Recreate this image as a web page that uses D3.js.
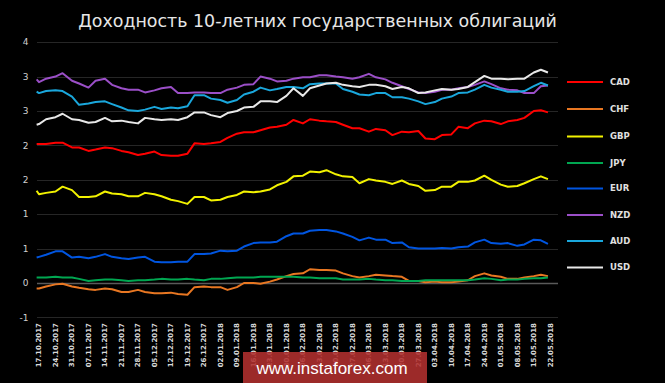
<!DOCTYPE html>
<html><head><meta charset="utf-8">
<script src="https://cdn.jsdelivr.net/npm/d3@7"></script>
<style>html,body{margin:0;padding:0;background:#000;}svg{display:block;}</style>
</head><body>
<script>
const title = "Доходность 10-летних государственных облигаций";
const dates = ["2017-10-16","2017-10-17","2017-10-20","2017-10-24","2017-10-27","2017-10-31","2017-11-03","2017-11-07","2017-11-10","2017-11-14","2017-11-17","2017-11-21","2017-11-24","2017-11-28","2017-12-01","2017-12-05","2017-12-08","2017-12-12","2017-12-15","2017-12-19","2017-12-22","2017-12-26","2017-12-29","2018-01-02","2018-01-05","2018-01-09","2018-01-12","2018-01-16","2018-01-19","2018-01-23","2018-01-26","2018-01-30",
"2018-02-02","2018-02-06","2018-02-09","2018-02-13","2018-02-16","2018-02-20","2018-02-23","2018-02-27","2018-03-02","2018-03-06","2018-03-09","2018-03-13","2018-03-16","2018-03-20","2018-03-23","2018-03-27","2018-03-30","2018-04-03","2018-04-06","2018-04-10","2018-04-13","2018-04-17","2018-04-20","2018-04-24","2018-04-27","2018-05-01","2018-05-04","2018-05-08","2018-05-11","2018-05-15","2018-05-18","2018-05-21"];

const CAD = [2.02,2.02,2.02,2.04,2.04,1.97,1.97,1.92,1.94,1.97,1.96,1.92,1.90,1.86,1.88,1.91,1.86,1.85,1.85,1.88,2.03,2.02,2.03,2.05,2.11,2.17,2.19,2.19,2.22,2.26,2.27,2.30,
 2.37,2.32,2.38,2.36,2.35,2.34,2.30,2.25,2.25,2.20,2.24,2.22,2.15,2.20,2.19,2.21,2.10,2.09,2.15,2.16,2.27,2.25,2.32,2.36,2.35,2.31,2.35,2.37,2.40,2.50,2.51,2.48];
const CHF = [-0.08,-0.08,-0.05,-0.02,-0.01,-0.05,-0.07,-0.09,-0.10,-0.08,-0.09,-0.13,-0.13,-0.10,-0.13,-0.15,-0.15,-0.14,-0.16,-0.17,-0.06,-0.05,-0.06,-0.06,-0.10,-0.06,0.00,0.00,-0.01,0.02,0.05,0.10,
 0.13,0.14,0.20,0.19,0.19,0.18,0.14,0.10,0.08,0.10,0.12,0.11,0.10,0.09,0.03,0.03,0.01,0.02,0.01,0.01,0.02,0.04,0.10,0.14,0.11,0.09,0.06,0.06,0.08,0.10,0.12,0.10];
const GBP = [1.34,1.29,1.31,1.33,1.40,1.35,1.25,1.25,1.26,1.33,1.30,1.29,1.26,1.26,1.31,1.29,1.26,1.21,1.19,1.15,1.25,1.25,1.20,1.21,1.25,1.28,1.33,1.32,1.33,1.36,1.42,1.47,
 1.55,1.56,1.62,1.61,1.64,1.58,1.55,1.54,1.45,1.51,1.49,1.47,1.44,1.49,1.44,1.41,1.34,1.35,1.40,1.40,1.47,1.47,1.49,1.56,1.50,1.43,1.40,1.41,1.45,1.51,1.55,1.51];
const JPY = [0.08,0.08,0.08,0.09,0.08,0.08,0.06,0.03,0.04,0.05,0.05,0.04,0.03,0.04,0.04,0.05,0.06,0.05,0.05,0.06,0.05,0.04,0.06,0.06,0.07,0.08,0.08,0.08,0.09,0.09,0.09,0.09,
 0.09,0.08,0.08,0.07,0.07,0.07,0.05,0.05,0.05,0.06,0.05,0.04,0.04,0.03,0.03,0.03,0.04,0.04,0.04,0.04,0.04,0.04,0.05,0.07,0.06,0.04,0.05,0.05,0.06,0.07,0.07,0.08];
const EUR = [0.37,0.38,0.41,0.46,0.46,0.37,0.38,0.36,0.38,0.42,0.38,0.36,0.35,0.37,0.38,0.31,0.30,0.30,0.31,0.31,0.42,0.42,0.43,0.47,0.46,0.47,0.53,0.58,0.59,0.59,0.60,0.68,
 0.72,0.72,0.76,0.77,0.77,0.75,0.72,0.67,0.62,0.66,0.63,0.63,0.58,0.59,0.52,0.50,0.50,0.50,0.51,0.50,0.52,0.53,0.59,0.63,0.58,0.57,0.58,0.54,0.56,0.63,0.62,0.57];
const NZD = [2.96,2.92,2.97,3.00,3.05,2.94,2.90,2.84,2.94,2.97,2.88,2.83,2.81,2.81,2.77,2.80,2.83,2.85,2.76,2.76,2.77,2.77,2.76,2.76,2.81,2.84,2.88,2.89,3.00,2.97,2.93,2.94,
 2.97,2.99,2.99,3.02,3.02,3.00,2.99,2.97,2.99,3.04,2.99,2.96,2.91,2.86,2.82,2.77,2.76,2.78,2.81,2.81,2.83,2.85,2.88,2.93,2.89,2.83,2.81,2.80,2.76,2.76,2.86,2.87];
const AUD = [2.78,2.76,2.79,2.80,2.79,2.71,2.59,2.61,2.63,2.64,2.60,2.55,2.51,2.50,2.52,2.56,2.53,2.55,2.54,2.57,2.73,2.73,2.68,2.66,2.62,2.66,2.74,2.78,2.84,2.80,2.82,2.85,
 2.85,2.83,2.89,2.90,2.90,2.90,2.82,2.78,2.74,2.73,2.76,2.76,2.70,2.70,2.68,2.64,2.60,2.63,2.68,2.71,2.76,2.77,2.81,2.88,2.84,2.81,2.78,2.78,2.79,2.86,2.91,2.87];
const USD = [2.30,2.31,2.38,2.41,2.46,2.38,2.37,2.33,2.34,2.40,2.35,2.36,2.34,2.32,2.40,2.38,2.37,2.38,2.37,2.41,2.48,2.48,2.44,2.41,2.47,2.50,2.55,2.56,2.64,2.64,2.63,2.72,
 2.83,2.72,2.83,2.87,2.90,2.91,2.88,2.86,2.85,2.88,2.88,2.86,2.82,2.85,2.83,2.76,2.77,2.80,2.82,2.81,2.82,2.85,2.92,3.01,2.97,2.97,2.96,2.97,2.97,3.06,3.10,3.06];

const seriesNames = ["CAD","CHF","GBP","JPY","EUR","NZD","AUD","USD"];
const seriesValues = [CAD, CHF, GBP, JPY, EUR, NZD, AUD, USD];
const seriesColors = ["#ff0000","#e87722","#f2f200","#00a651","#0055e0","#9b4fc8","#1aa7dc","#e8e8e8"];
const yTicks = [-0.5,0,0.5,1,1.5,2,2.5,3,3.5];
const xTickLabels = ["17.10.2017","24.10.2017","31.10.2017","07.11.2017","14.11.2017","21.11.2017","28.11.2017","05.12.2017","12.12.2017","19.12.2017","26.12.2017","02.01.2018","09.01.2018","16.01.2018","23.01.2018","30.01.2018","06.02.2018","13.02.2018","20.02.2018","27.02.2018","06.03.2018","13.03.2018","20.03.2018","27.03.2018","03.04.2018","10.04.2018","17.04.2018","24.04.2018","01.05.2018","08.05.2018","15.05.2018","22.05.2018"];
const watermark = "www.instaforex.com";

const W = 665, H = 383;
const parse = d3.timeParse("%Y-%m-%d");
const parseLbl = d3.timeParse("%d.%m.%Y");
const svg = d3.select("body").append("svg").attr("width", W).attr("height", H)
  .style("background", "#000");
svg.append("rect").attr("width", W).attr("height", H).attr("fill", "#000");

const x = d3.scaleTime().domain([parseLbl("17.10.2017"), parseLbl("22.05.2018")]).range([39, 550.3]);
const y = d3.scaleLinear().domain([-0.5, 3.5]).range([317.4, 42.2]);
const plotL = 37, plotR = 558;

// title
const t = svg.append("text").attr("x", 317.5).attr("y", 27)
  .attr("text-anchor", "middle").attr("fill", "#e6e6e6")
  .style("font-family", "DejaVu Sans").style("font-size", "18px").text(title);
const tl = t.node().getComputedTextLength();
t.style("font-size", (18 * 479 / tl).toFixed(2) + "px");

// grid
svg.append("g").selectAll("line").data(yTicks).join("line")
  .attr("x1", plotL).attr("x2", plotR)
  .attr("y1", d => Math.round(y(d)) + 0.5).attr("y2", d => Math.round(y(d)) + 0.5)
  .attr("stroke", d => d === 0 ? "#5a5a5a" : "#262626")
  .attr("stroke-width", d => d === 0 ? 1.5 : 1);

// y labels (Excel-style rounding, half away from zero)
const fmt = v => { const r = Math.sign(v) * Math.round(Math.abs(v)); return r === 0 ? "0" : String(r); };
svg.append("g").selectAll("text").data(yTicks).join("text")
  .attr("x", 28.5).attr("y", d => y(d)).attr("dy", "0.35em")
  .attr("text-anchor", "end").attr("fill", "#d0d0d0")
  .style("font-family", "DejaVu Sans").style("font-size", "9px")
  .text(fmt);

// x labels
svg.append("g").selectAll("text").data(xTickLabels).join("text")
  .attr("transform", d => `translate(${x(parseLbl(d))},323) rotate(-90)`)
  .attr("dy", "0.35em").attr("text-anchor", "end").attr("fill", "#d8d8d8")
  .style("font-family", "DejaVu Sans").style("font-weight", "bold").style("font-size", "7px")
  .text(d => d);

// lines
const line = d3.line().x(d => x(d[0])).y(d => y(d[1]));
const pd = dates.map(parse);
svg.append("g").selectAll("path").data(seriesValues).join("path")
  .attr("d", vals => line(vals.map((v, i) => [pd[i], v])))
  .attr("fill", "none").attr("stroke", (d, i) => seriesColors[i])
  .attr("stroke-width", 2).attr("stroke-linejoin", "round");

// legend
const legY = [82, 109, 136.5, 163, 188.5, 215, 241, 267.5];
const lg = svg.append("g").selectAll("g").data(seriesNames).join("g")
  .attr("transform", (d, i) => `translate(0,${legY[i]})`);
lg.append("line").attr("x1", 567).attr("x2", 603).attr("y1", 0).attr("y2", 0)
  .attr("stroke", (d, i) => seriesColors[i]).attr("stroke-width", 2);
lg.append("text").attr("x", 610).attr("y", 0).attr("dy", "0.35em")
  .attr("fill", "#e0e0e0").style("font-family", "DejaVu Sans").style("font-weight", "bold")
  .style("font-size", "8.5px").text(d => d);

// watermark
svg.append("rect").attr("x", 243).attr("y", 352).attr("width", 184).attr("height", 31)
  .attr("fill", "#b2302f").attr("fill-opacity", 0.88);
svg.append("text").attr("x", 332).attr("y", 374).attr("text-anchor", "middle")
  .attr("fill", "#ffffff").style("font-family", "Liberation Sans, Arial").style("font-size", "17px")
  .text(watermark);
</script>
</body></html>
